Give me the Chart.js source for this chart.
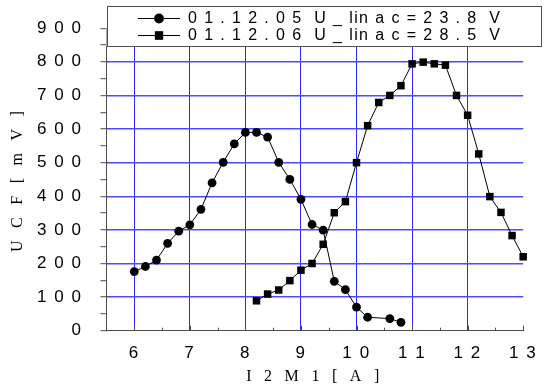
<!DOCTYPE html>
<html>
<head>
<meta charset="utf-8">
<script src="https://cdn.jsdelivr.net/npm/chart.js@4/dist/chart.umd.min.js"></script>
<style>
  html, body { margin: 0; padding: 0; background: #fff; }
  canvas { display: block; }
</style>
</head>
<body>
<canvas id="chart" width="547" height="391"></canvas>
<script>
// Measurement of 01.12.05 (U_linac = 23.8 V)
const currentA = [6.0, 6.2, 6.4, 6.6, 6.8, 7.0, 7.2, 7.4, 7.6, 7.8, 8.0, 8.2, 8.4, 8.6, 8.8, 9.0, 9.2, 9.4, 9.6, 9.8, 10.0, 10.2, 10.6, 10.8];
const ucfA     = [176, 191, 210, 260, 296, 315, 361, 440, 501, 556, 590, 590, 576, 501, 450, 391, 316, 299, 147, 122, 70, 40, 36, 25];

// Measurement of 01.12.06 (U_linac = 28.5 V)
const currentB = [8.2, 8.4, 8.6, 8.8, 9.0, 9.2, 9.4, 9.6, 9.8, 10.0, 10.2, 10.4, 10.6, 10.8, 11.0, 11.2, 11.4, 11.6, 11.8, 12.0, 12.2, 12.4, 12.6, 12.8, 13.0];
const ucfB     = [89, 109, 121, 149, 180, 200, 257, 351, 384, 500, 610, 679, 700, 729, 794, 799, 794, 790, 700, 641, 526, 399, 352, 283, 220];

const seriesLabels = ['0 1 . 1 2 . 0 5  U _ lin a c = 2 3 . 8  V', '0 1 . 1 2 . 0 6  U _ lin a c = 2 8 . 5  V'];
const xTickValues = [6, 7, 8, 9, 10, 11, 12, 13];
const yTickValues = [0, 100, 200, 300, 400, 500, 600, 700, 800, 900];
const xTitle = 'I 2 M 1 [ A ]';
const yTitle = 'U C F [ m V ]';

const GRID_BLUE = 'rgb(40,40,255)';
const GRID_BLUE_H = 'rgb(74,74,255)';
const AXIS_GREY = '#4d4d4d';
const NONE = 'rgba(0,0,0,0)';
const SANS = '"Liberation Sans", Arial, sans-serif';
const SERIF = '"Liberation Serif", "Times New Roman", serif';
const TICK_SIZE = 17;
const TITLE_SIZE = 16;
const LEGEND_SIZE = 16;

const spaced = v => String(v).split('').join(' ');
const toPairs = (xs, ys) => xs.map((x, i) => ({ x, y: ys[i] }));

// Extra tracking between glyphs, fitted so each text spans a set width.
const tracking = { title: 0, tick: 0, legend: 0 };
function fitTracking(ctx, font, text, span) {
  ctx.save();
  ctx.font = font;
  ctx.letterSpacing = '0px';
  const w = ctx.measureText(text).width;
  ctx.restore();
  return Math.max(0, (span - w) / (text.length - 1));
}

const decor = {
  id: 'decor',
  beforeDraw(chart) {
    const ctx = chart.ctx;
    tracking.title = fitTracking(ctx, `${TITLE_SIZE}px ${SERIF}`, xTitle, 133);
    tracking.tick = fitTracking(ctx, `${TICK_SIZE}px ${SANS}`, spaced(900), 44);
    tracking.legend = fitTracking(ctx, `${LEGEND_SIZE}px ${SANS}`, seriesLabels[0], 312);
    ctx.letterSpacing = tracking.title + 'px';
  },
  beforeDatasetsDraw(chart) {
    chart.ctx.letterSpacing = '0px';
  },
  afterDatasetsDraw(chart) {
    chart.ctx.letterSpacing = tracking.tick + 'px';
  },
  afterDraw(chart) {
    const ctx = chart.ctx;
    const xs = chart.scales.x;
    const bottom = chart.chartArea.bottom;
    ctx.save();
    ctx.letterSpacing = '0px';
    // inward tick marks on the current axis
    ctx.strokeStyle = AXIS_GREY;
    ctx.lineWidth = 1;
    xs.ticks.forEach(t => {
      if (t.value <= xs.min) return;
      const px = Math.round(xs.getPixelForValue(t.value)) + 0.5;
      const len = Number.isInteger(t.value) ? 5 : 3;
      ctx.beginPath();
      ctx.moveTo(px, bottom);
      ctx.lineTo(px, bottom - len);
      ctx.stroke();
    });

    // legend box
    const bx = chart.chartArea.left, by = 6.5, bw = 434, bh = 40;
    ctx.fillStyle = '#fff';
    ctx.fillRect(bx, by, bw, bh);
    ctx.strokeStyle = AXIS_GREY;
    ctx.strokeRect(Math.round(bx) + 0.5, by, bw, bh);

    const rows = [18, 35];
    chart.data.datasets.forEach((ds, i) => {
      const y = rows[i];
      ctx.strokeStyle = '#000';
      ctx.lineWidth = 1;
      ctx.beginPath();
      ctx.moveTo(138, y + 0.5);
      ctx.lineTo(180, y + 0.5);
      ctx.stroke();
      Chart.helpers.drawPoint(ctx, {
        pointStyle: ds.pointStyle,
        radius: ds.pointRadius + 0.5,
        rotation: 0,
        borderWidth: 0
      }, 159, y + 0.5);
      ctx.fillStyle = '#000';
      ctx.fill();
      ctx.letterSpacing = tracking.legend + 'px';
      ctx.font = `${LEGEND_SIZE}px ${SANS}`;
      ctx.textAlign = 'left';
      ctx.textBaseline = 'middle';
      ctx.fillText(ds.label, 188, y + 1);
      ctx.letterSpacing = '0px';
    });
    ctx.restore();
  }
};

const seriesStyle = {
  borderColor: '#000',
  backgroundColor: '#000',
  borderWidth: 1,
  pointBackgroundColor: '#000',
  pointBorderColor: '#000',
  pointBorderWidth: 0,
  showLine: true,
  tension: 0,
  clip: false
};

new Chart(document.getElementById('chart'), {
  type: 'scatter',
  data: {
    datasets: [
      Object.assign({ label: seriesLabels[0], data: toPairs(currentA, ucfA), pointStyle: 'circle', pointRadius: 4.4 }, seriesStyle),
      Object.assign({ label: seriesLabels[1], data: toPairs(currentB, ucfB), pointStyle: 'rect', pointRadius: 5.3 }, seriesStyle)
    ]
  },
  options: {
    responsive: false,
    animation: false,
    devicePixelRatio: 1,
    layout: { padding: { top: 24.7, right: 13.7, bottom: 0, left: 0 } },
    plugins: { legend: { display: false }, tooltip: { enabled: false } },
    scales: {
      x: {
        type: 'linear',
        min: 5.5,
        max: 13,
        afterFit: s => { s.height = 60.3; },
        afterBuildTicks: s => { s.ticks = []; for (let k = 11; k <= 26; k++) s.ticks.push({ value: k / 2 }); },
        grid: {
          drawTicks: false,
          color: c => (c.tick && Number.isInteger(c.tick.value) && c.tick.value < 13) ? GRID_BLUE : NONE,
          lineWidth: 1
        },
        border: { display: true, color: AXIS_GREY, width: 1 },
        ticks: {
          z: 1,
          autoSkip: false,
          maxRotation: 0,
          minRotation: 0,
          padding: 12,
          color: '#000',
          font: { family: SANS, size: TICK_SIZE },
          callback: v => xTickValues.includes(v) ? spaced(v) : ''
        },
        title: {
          display: true,
          text: xTitle,
          color: '#000',
          font: { family: SERIF, size: TITLE_SIZE },
          padding: { top: 0, bottom: 4.5 }
        }
      },
      y: {
        type: 'linear',
        min: 0,
        max: 900,
        afterFit: s => { s.width = 106.5; },
        afterBuildTicks: s => { s.ticks = []; for (let v = 0; v <= 900; v += 50) s.ticks.push({ value: v }); },
        grid: {
          drawTicks: true,
          tickLength: 6,
          tickWidth: 1,
          tickColor: AXIS_GREY,
          color: c => (c.tick && yTickValues.includes(c.tick.value) && c.tick.value > 0 && c.tick.value < 900) ? GRID_BLUE_H : NONE,
          lineWidth: 1.4
        },
        border: { display: true, color: AXIS_GREY, width: 1 },
        ticks: {
          z: 1,
          autoSkip: false,
          padding: 18,
          color: '#000',
          font: { family: SANS, size: TICK_SIZE },
          callback: v => yTickValues.includes(v) ? spaced(v) : ''
        },
        title: {
          display: true,
          text: yTitle,
          color: '#000',
          font: { family: SERIF, size: TITLE_SIZE },
          padding: { top: 8, bottom: 0 }
        }
      }
    }
  },
  plugins: [decor]
});
</script>
</body>
</html>
